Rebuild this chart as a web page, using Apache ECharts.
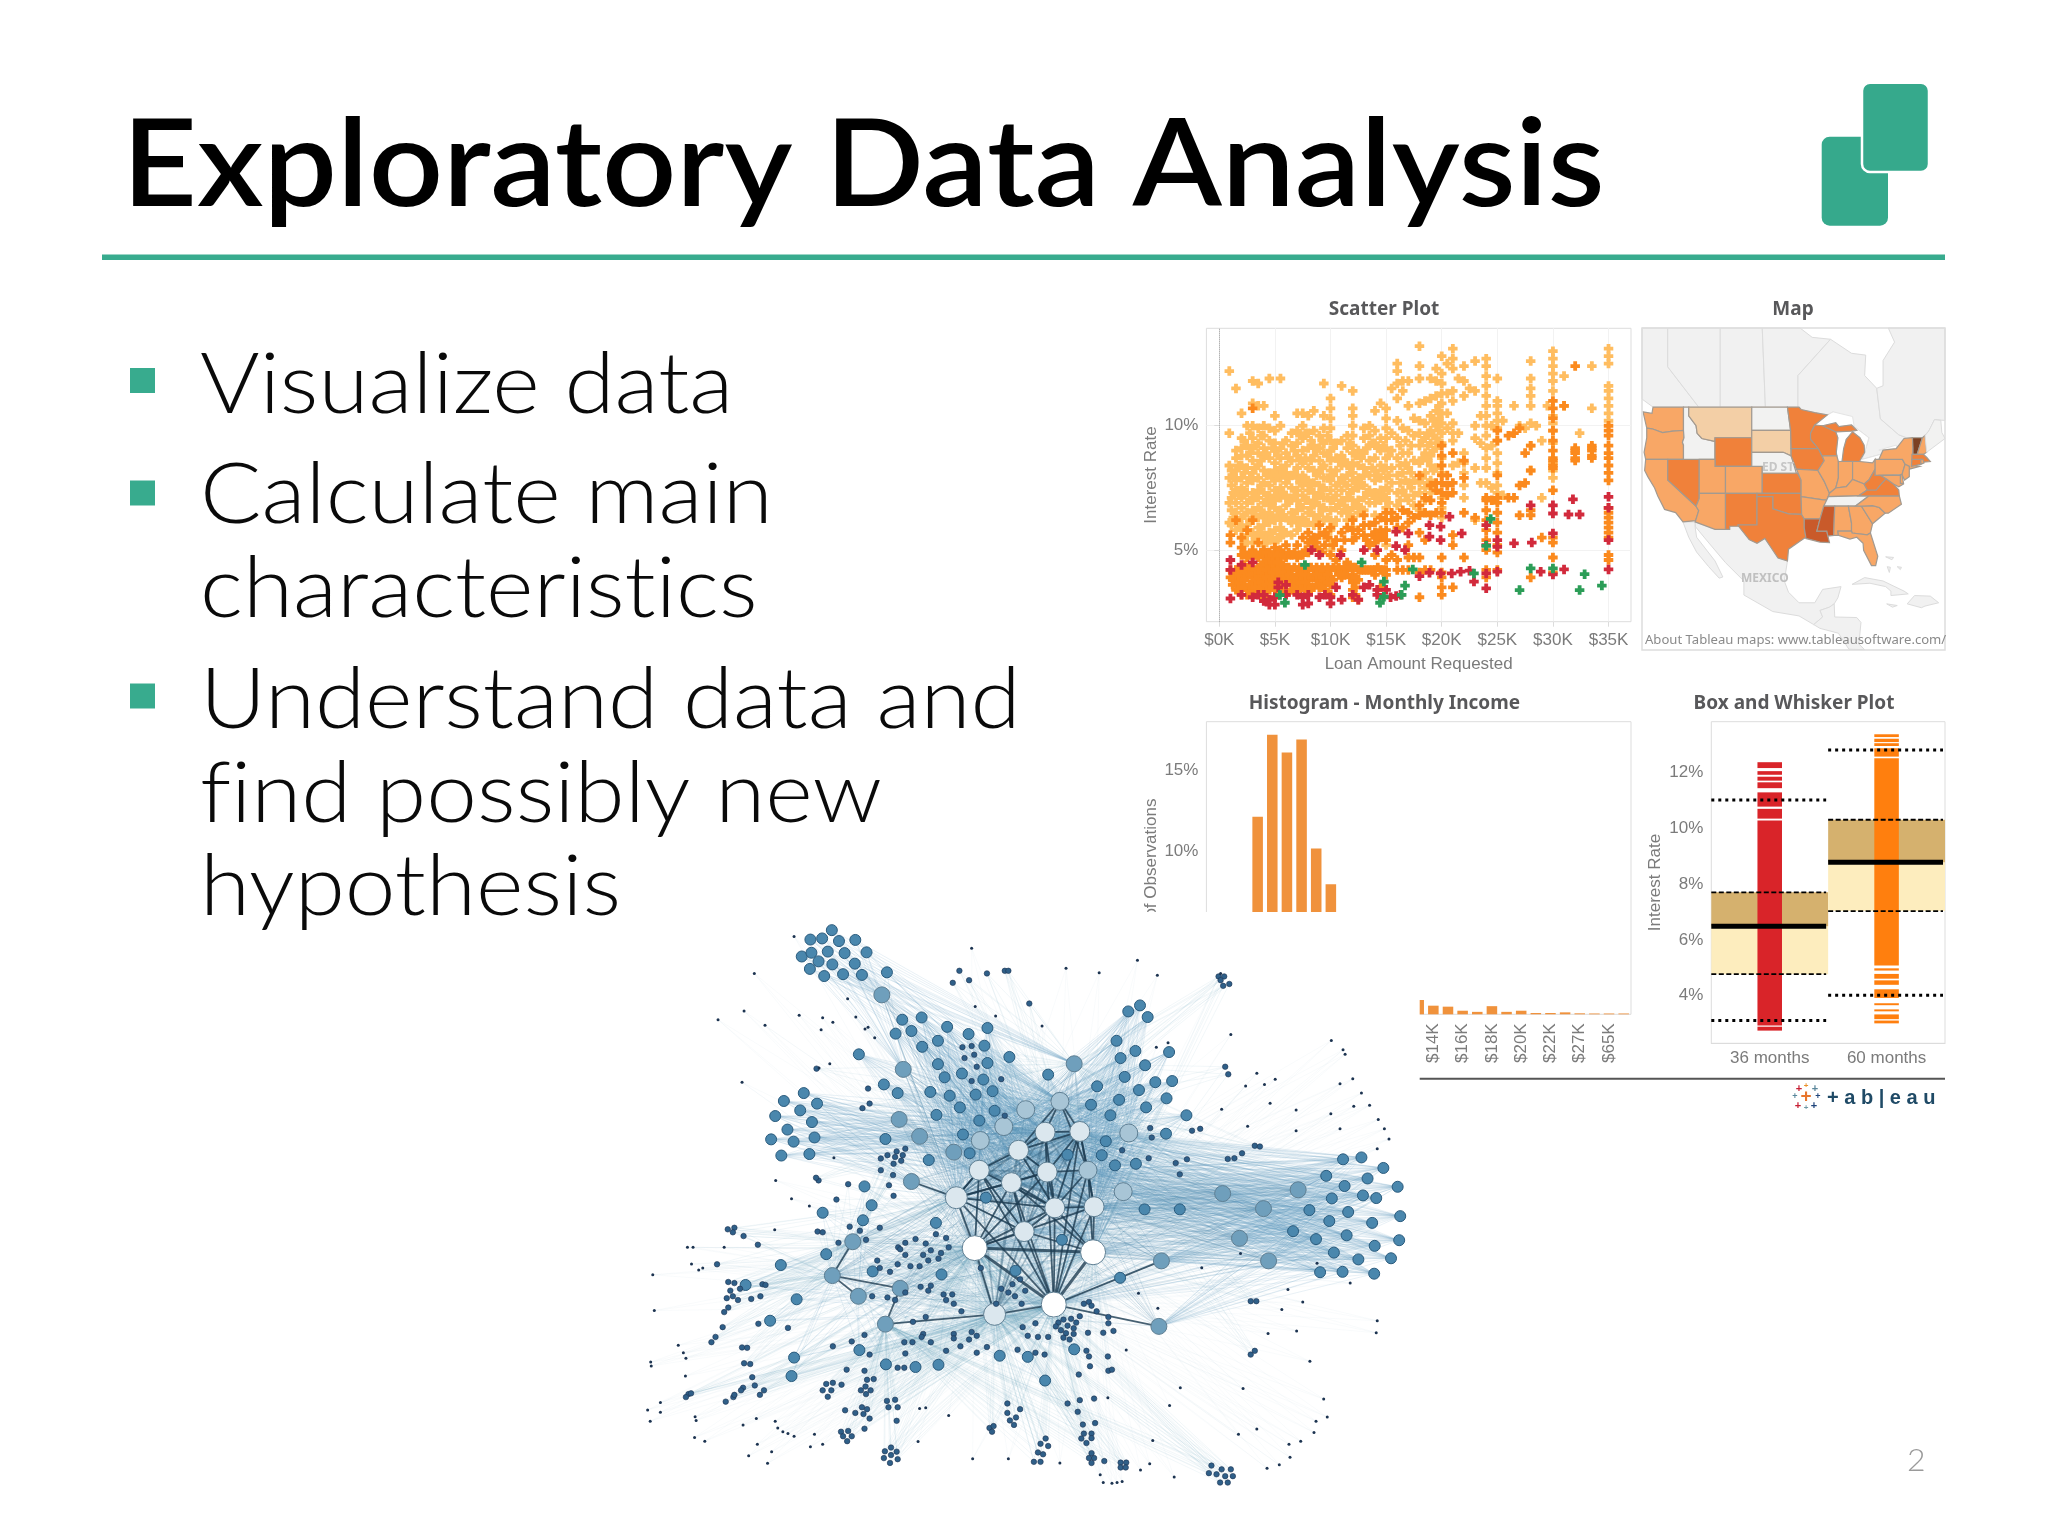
<!DOCTYPE html>
<html>
<head>
<meta charset="utf-8">
<title>Exploratory Data Analysis</title>
<script src="https://cdn.jsdelivr.net/npm/echarts@6/dist/echarts.min.js"></script>
<style>
  html, body { margin: 0; background: #fff; }
  #main { width: 2048px; height: 1524px; }
</style>
</head>
<body>
<div id="main"></div>
<script>
// ---- slide text
const slideTitle = 'Exploratory Data Analysis';
const bulletLines = ['Visualize data', 'Calculate main', 'characteristics', 'Understand data and', 'find possibly new', 'hypothesis'];

// ---- scatter plot: [loan amount in $K, [interest rates]]
const scatterXTicks = [0, 5, 10, 15, 20, 25, 30, 35];
const scatterYTicks = [5, 10];
const scatterLight = [
  [0.9,[12.2,9.7,8.4,7.9,6.9,6.1]],[1.1,[8.2,7.6,7.1,6.6,6.0]],[1.5,[11.5,9.0,8.7,8.2,7.8,7.4,6.9,6.5,6.2,5.8]],
  [2,[10.5,9.5,9.1,8.8,8.4,7.9,7.5,7.1,6.7,6.3,5.9,5.5]],[2.5,[10.0,9.2,8.8,8.3,7.7,7.3,6.9,6.5,6.0,5.6,5.3]],
  [3,[11.8,10.9,10,9.5,9.1,8.6,8.1,7.8,7.3,7,6.6,6.2,5.7,5.3]],[3.5,[11.7,10.8,9.9,9.3,8.9,8.4,7.9,7.4,7.1,6.7,6.3,5.9,5.5]],
  [4,[10.8,10,9.6,9.1,8.8,8.2,7.7,7.3,6.9,6.4,6,5.6,5.2]],[4.5,[11.9,9.9,9.4,8.7,8.1,7.6,7.2,6.8,6.5,6.1,5.7,5.4]],
  [5,[10.4,9.8,9.3,9,8.5,8.2,7.8,7.4,7,6.7,6.2,5.8,5.3]],[5.5,[11.9,10,9.1,8.7,8.3,7.9,7.5,7.1,6.6,6.2,5.9,5.5]],
  [6,[9.4,8.9,8.4,8.1,7.7,7.2,6.8,6.3,5.7]],[6.5,[9.7,9.2,8.6,8,7.5,7,6.5,6.1,5.6]],
  [7,[10.5,9.8,9.3,8.8,8.3,7.9,7.4,7,6.6,6.2,5.8]],[7.5,[10.5,10,9.5,9,8.5,8,7.6,7.2,6.7,6.3]],
  [8,[10.4,9.7,9.1,8.3,7.8,7.4,7,6.5,6.1]],[8.5,[10.6,9.8,9.2,8.8,8.2,7.7,7.3,6.9,6.4,6]],
  [9,[9.6,9.1,8.6,8.1,7.6,7.2,6.8,6.4]],[9.4,[11.7,10.4,9.9,9.3,8.9,8.4,7.9,7.5,7.1,6.7,6.2,5.6]],
  [10,[11.1,10.7,10.3,9.9,9.4,9,8.6,8.2,7.8,7.4,7,6.6,6.2,5.8,5.4,5]],[10.5,[9.3,8.7,8.2,7.6,7.2,6.7,6.2]],
  [11,[11.6,9.4,8.8,8.4,7.9,7.4,7,6.5]],[11.5,[9.6,9.1,8.5,8,7.6,7.1,6.6,6.2]],
  [12,[11.4,10.7,10.4,10,9.6,9.2,8.9,8.5,8.1,7.8,7.4,7,6.7,6.3,5.9]],[12.5,[9,8.4,7.9,7.5,7,6.5]],
  [13,[9.9,9.5,8.9,8.3,8,7.6,7.1,6.6]],[13.5,[10,9.6,9.2,8.6,8,7.4,6.9]],[14,[10.6,9.8,9.3,8.7,8.2,7.8,7.3,6.9,6.4]],
  [14.5,[10.9,9.5,9,8.4,7.9,7.4,7]],[15,[10.7,10.3,9.9,9.5,9.1,8.7,8.3,7.9,7.5,7.1,6.7,6.2,5.2]],[15.5,[11.5,9.7,9,8.3,7.7]],
  [16,[12.5,12.2,11.7,11.1,10.2,9.5,8.7,8,7.3,6.8]],[16.5,[11.8,11.4,9.9,8.9,8.1,7.4]],[17,[11.8,10.8,9.8,8.9,8.3,7.7,7]],
  [17.5,[10.3,9.6,8.6,7.8,7.2,6.8]],[18,[13.2,12.4,11.9,10.9,10.2,9.7,9.2,8.5,7.7,7.3,6.6]],[18.5,[11,10.1,9.5,8.9,8.1,7.5,7]],
  [19,[11.9,11.1,10.4,9.8,9.3,8.8,8.4,7.8,7.3]],[19.5,[12.3,11.8,11.2,10.6,10,9.5,9.1,8.3]],
  [20,[12.8,12.1,11.7,11.3,10.9,10.5,10.1,9.7,9.3,8.7,8.1,7.1,6.7,6.3]],[20.5,[12.5,11.3,10.5,9.9]],
  [21,[13.1,12.7,12.3,11.4,11,10.1,9.7,9.4,8.4]],[21.5,[11.9,9.7,8.5]],[22,[12.4,11.8,11.2,8.9,8.5,8.1,7.6,7.1]],[22.5,[11.5]],
  [23,[12.6,11.4,10,9.5,8.3,6.2]],[23.5,[10.4,9.3,7.7]],[24,[12.7,12.4,12,11.6,11.2,10.8,10.4,10,9.6,9.1,8.7,8.3,7.7]],
  [24.5,[10,9.2,7.5]],[25,[11.9,11,10.8,10.5,10.2,9.9,9.4,8.9,8.5,8.1,7.6,7.3]],[25.5,[10.2,7.2]],[26.5,[10.8]],[27,[10]],
  [27.5,[9.9]],[28,[12.6,11.9,11.5,11.2,10.8,10.1,9.2,8.2]],[28.5,[10]],[29,[9.4,7.1]],[29.5,[10.8]],
  [30,[13,12.7,12.4,12.1,11.8,11.4,10.4,10.1,9.8,9.3,8.5,8.2,7.9]],[31,[12,10.8]],[32.4,[9.7]],[33.5,[12.4,10.7]],
  [35,[13.1,12.8,12.5,11.6,11.4,11.1,10.8,10.5,10.2]]
];
// the solid part of the light cloud between the whole-thousand columns
const scatterLightFill = [
  [1.25,[8,7.3,6.3]],[1.75,[8.4,7.2,6.1]],[2.25,[9.4,8.1,7.3,6.4,5.3]],
  [2.75,[9.7,8.9,7.9,7,6.2]],[3.25,[9.2,8.3,7.2,6.4,5.5]],[3.75,[9.6,8.6,7.6,6.6,5.7]],
  [4.25,[8.9,8,7,6.2,5.4]],[4.75,[9.1,7.9,7,6.3,5.5]],[5.25,[8.8,8,7.2,6.4,5.5]],
  [5.75,[9.3,8.1,7.3,6.4,5.7]],[6.25,[8.7,7.9,7,6.2]],[6.75,[9,8.1,7.2,6.3]],
  [7.25,[9.6,8.6,7.7,6.8,6]],[7.75,[9.7,8.7,7.8,7,6.1]],[8.25,[9.4,8.6,7.6,6.7]],
  [8.75,[9,8,7.1,6.2]],[9.25,[9.4,8.3,7.4,6.6]],[9.75,[9.6,8.8,7.9,7.1,6.3]],
  [10.25,[9.1,8,7,6]],[10.75,[8.6,7.7,6.8]],[11.25,[8.6,7.7,6.8]],[11.75,[9.3,8.3,7.3,6.4]],
  [12.25,[8.8,7.7,6.8]],[12.75,[8.7,7.7,6.7]],[13.25,[9.1,8.1,7.3]],[13.75,[9.3,8.3,7.2]],
  [14.25,[9.1,8,7.1]],[14.75,[9.2,8.2,7.2]],[15.25,[8.8,8,7.4,6.9]],[16.25,[9.2,8.4,7.7,7]],[16.75,[9.4,8.5,7.8,7.2]],
  [17.25,[9.2,8.1,7.5]],[18.25,[9.4,8.7,7.9]],[18.75,[9.7,9.2,8.6,7.7]],[19.25,[10.2,9.6,9,8.2,7.6]],[19.75,[10.8,10.3,9.8,9.3]]
];
const scatterOrange = [
  [1,[5.6,5.3,4.2,3.9]],[1.2,[4.1,3.8,3.6]],[1.5,[6.2,4.2,4,3.7,3.4]],[2,[5.5,5.1,4.8,4.2,3.9,3.6,3.2]],[2.5,[5.8,4.7,4.2,3.9,3.5,3.2]],
  [3,[10.7,6.2,5,4.8,4.3,4,3.7,3.4]],[3.5,[5.3,4.7,4.2,3.9,3.6,3.3]],[4,[5,4.8,4.4,4.1,3.8,3.5,3.1]],[4.5,[4.9,4.7,4.3,4,3.7,3.4]],
  [5,[5.1,4.9,4.6,4.3,4,3.7,3.4]],[5.5,[5,4.7,4.4,4.2,3.9,3.6,3.3]],[6,[5.2,4.7,4.2,3.9,3.6]],[6.5,[4.8,4.2,4,3.7,3.4]],
  [7,[5.2,4.7,4.2,3.9,3.6,3.3]],[7.5,[5.5,4.8,4.2,3.8,3.5]],[8,[5.7,5.3,4.9,4.2,3.9,3.6,3.3]],[8.5,[5.5,5.1,4.2,3.9,3.5]],
  [9,[6,5.6,5,4.2,3.8,3.5]],[9.5,[5.7,5.2,4.1,3.7,3.4]],[10,[5.9,4.8,4.2,3.9,3.6,3.2]],[10.5,[5.4,4.6,4.2]],[11,[5.7,5,4.2,3.9]],
  [11.5,[5.9,4.5,4.2]],[12,[6.2,5.8,5.4,4.3,4,3.7,3.4,3.1]],[12.5,[5.8,4.2,3.8,3]],[13,[6.4,6,5.6,4.2]],[13.5,[6,5.2,4.2]],
  [14,[6.1,5.7,5.3,4.8,4.2,4]],[14.5,[6.3,5.8,5.5,4.2,3.5]],[15,[6.5,6.2,5.8,5.4,4.6,4.2,4]],[15.5,[6.5,6.2,4.8]],[16,[6.3,5.9,4.6,4.2]],
  [16.5,[6.6,5.9,4.2]],[17,[6.5,6.1,5.2,4.7,4.2]],[17.5,[6.3,4.7]],[18,[8,6.8,6.4,5.7,4.7,4.1,3.1]],[18.5,[7.1,6.5,5.4,4.2]],
  [19,[7.6,7,6.4,4.2]],[19.5,[7.7,7.4,6.5]],[20,[9.2,8.8,8.4,8,7.7,7.3,6.9,6.5,4.7,4.1,3.9,3.5,3.2]],[20.5,[8,7.6,7.2]],
  [21,[8.9,7.7,7.3,5.6,5.2,3.5]],[22,[8.6,7.9,6.5,4.7]],[23,[6.3]],[24,[7.1,7,6.6,6.2,5.8,5.4,5,4.2,3.9]],[24.5,[7]],
  [25,[9.8,9.4,8,7.1,6.9,6.5,6.1,5.7,5.2,4.9,4.2]],[26,[9.6,7.1]],[26.5,[9.7,7.1]],[27,[9.9,7.6,6.4]],[27.5,[8.9,7.7]],
  [28,[9.2,8.2,6.6,6.4,3.9]],[29,[5.5]],[30,[11,10.7,10.3,9.8,9.4,9,8.7,8.6,8.4,8.3,7.4,5.5,5.3,4.7,4.1]],[31,[10.8]],
  [32,[12.4,9.1,9,8.9,8.7,8.6]],[33.5,[9.2,9.1,9,8.8,8.7]],
  [35,[10,9.8,9.6,9.2,8.9,8.7,8.4,8.1,7.8,6.7,6.5,6.3,6.1,5.9,5.7,5.5,4.8,4.6]],
  [1.75,[4.3,4,3.7,3.4]],[2.25,[4.4,4.1,3.8,3.5,4.9]],[2.75,[4.3,4,3.6,3.3,4.8]],[3.25,[4.2,3.8,3.5,4.8]],[3.75,[4.4,4.1,3.7,3.4,4.9]],[4.25,[4.6,4.2,3.9,3.6,3.3,4.9]],
  [4.75,[4.8,4.5,4.1,3.8,3.5]],[5.25,[4.8,4.5,4.2,3.8,3.5,3.2]],[5.75,[4.8,4.4,4.1,3.7,3.4]],[6.25,[4.9,4.3,4,3.7,3.3]],[6.75,[4.9,4.3,3.9,3.5]],
  [7.25,[4.8,4.3,4,3.7,3.4]],[7.75,[5,4.3,4,3.7,3.4]],[8.25,[5.4,4.3,3.9,3.5]],[8.75,[5.3,4.3,4,3.6]],[9.25,[4.9,4.3,3.9,3.5]],[9.75,[5.5,4.3,4,3.7,3.3]],
  [10.25,[5.2,4.3,3.8]],[10.75,[4.3,4]],[11.25,[5.4,4.3,4]],[11.75,[4.3,3.9]],[12.25,[5.5,4.3,3.9,3.5,3.2]],[12.75,[4.2]],[13.25,[4.2,5.4]],[13.75,[4.2,5.6]],[14.25,[4.3,5.5]],[14.75,[4.2,5.6]]
];
const scatterRed = [
  [1,[4.6,4.2,3.05]],[2,[4.4,3.2]],[3,[4.5,3.1]],[3.5,[3.2]],[4,[3.2,2.95]],[4.5,[3,2.8]],[5,[3.1,2.8]],[5.3,[3.7,3.5]],
  [6,[3.6,3.2]],[7,[3.2]],[7.5,[3.1,2.8]],[8,[3.2,2.85]],[8.3,[5]],[9,[4.8,3.1]],[9.5,[3.2]],[10,[3.1,2.85]],[10.5,[3.5]],
  [10.9,[4.8]],[11,[3]],[12,[3.2]],[12.5,[3]],[13,[5,3.5]],[13.5,[3.6]],[14.2,[5,3.4,3.2]],[15,[3.4]],[15.4,[3.1]],[15.9,[5.74,5.16,3.15]],
  [16.3,[3.2]],[16.7,[5]],[17,[5.67]],[18,[3.95]],[18.9,[6,5.54,4.09]],[19.9,[5.94,5.4,4.06]],[20.7,[6.34]],[20.9,[4.06]],
  [21.7,[4.13]],[21.8,[5.67]],[22.5,[4.17]],[22.9,[3.73]],[24,[6,5.2,4.06,3.46]],[25,[5.4,5.13,4.13]],[26.5,[5.27]],
  [28,[6.8]],[28.1,[5.3]],[28.9,[4.13]],[30,[6.8,6.47,5.67,4.02]],[31,[4.22]],[31.4,[6.43]],[31.8,[7.04]],
  [32.4,[6.43]],[35,[7.14,6.7,5.4,4.22]]
];
const scatterGreen = [
  [5.45,[3.19]],[5.9,[2.88]],[7.7,[4.4]],[12.8,[4.5]],[14.45,[2.88]],[14.8,[3.73,3.12]],[16.4,[3.2]],[16.7,[3.57]],[17.4,[4.22]],
  [22.9,[4.06]],[24,[5.17]],[24.4,[6.25]],[27,[3.39]],[28,[4.26]],[30,[4.26]],[32.4,[3.39]],[32.85,[4.03]],[34.4,[3.57]]
];

// ---- histogram of monthly income, share of observations in %; bins 0-2 and 9-13 sit behind the network picture
const histValues = [0.4,1.2,4.2,12.16,17.2,16.1,16.9,10.2,8,5.5,4,3,2.2,1.5,0.88,0.53,0.47,0.22,0.15,0.5,0.15,0.22,0.08,0.08,0.12,0.06,0.05,0.05,0.05];
const histLabels = ['','','','','','','','','','','','','','','','$14K','','$16K','','$18K','','$20K','','$22K','','$27K','','$65K',''];
const histYTicks = [10, 15];

// ---- box and whisker plot
const boxCategories = ['36 months', '60 months'];
const boxQ1 = [4.77, 7.03];
const boxMedian = [6.49, 8.78];
const boxQ3 = [7.70, 10.30];
const whiskerLow = [3.11, 4.02];
const whiskerHigh = [11.01, 12.80];
const boxYTicks = [4, 6, 8, 10, 12];
const stripRed = [[10.27,2.93],[2.89,2.75],[10.69,10.34],[11.28,10.77],[11.64,11.43],[11.84,11.70],[12.04,11.91],[12.36,12.15]];
const stripOrange = [[12.5,5.08],[4.98,4.90],[4.78,4.61],[4.55,4.39],[4.23,3.92],[3.73,3.66],[3.51,3.44],[3.33,3.16],[3.11,3.01],[12.86,12.56],[13.04,12.94],[13.2,13.08],[13.36,13.26]];

// ---- map: state outlines in lon/lat and a colour class per state
const stateOutlines = {
  WA: [[-124.7,48.4],[-123,48.2],[-122.8,49],[-117,49],[-117,46],[-119,45.9],[-121,45.7],[-123,46.2],[-124,46.3]],
  OR: [[-124,46.3],[-123,46.2],[-121,45.7],[-119,45.9],[-117,46],[-116.9,45],[-117.2,44.4],[-117,44],[-117,42],[-124.2,42],[-124.5,43],[-124,45]],
  CA: [[-124.2,42],[-120,42],[-120,39],[-114.6,35],[-114.1,34.3],[-114.7,32.7],[-117.1,32.5],[-118.5,34],[-120.6,34.5],[-121.9,36.6],[-122.5,37.8],[-123.8,39.5],[-124.4,40.4]],
  NV: [[-120,42],[-114,42],[-114,36.2],[-114.6,35],[-120,39]],
  ID: [[-117,49],[-116,49],[-116,47.9],[-114.6,46.6],[-114.4,45.6],[-113.5,44.9],[-111,44.5],[-111,42],[-117,42],[-117,44],[-117.2,44.4],[-116.9,45],[-117,46]],
  MT: [[-116,49],[-104,49],[-104,45],[-111,45],[-111,44.5],[-113.5,44.9],[-114.4,45.6],[-114.6,46.6],[-116,47.9]],
  WY: [[-111,45],[-104,45],[-104,41],[-111,41]],
  UT: [[-114,42],[-111,42],[-111,41],[-109,41],[-109,37],[-114,37]],
  CO: [[-109,41],[-102,41],[-102,37],[-109,37]],
  AZ: [[-114,37],[-109,37],[-109,31.3],[-111,31.3],[-114.8,32.5],[-114.7,32.7],[-114.1,34.3],[-114.6,35],[-114,36.2]],
  NM: [[-109,37],[-103,37],[-103,32],[-106.6,32],[-106.5,31.8],[-108.2,31.8],[-108.2,31.3],[-109,31.3]],
  ND: [[-104,49],[-97.2,49],[-96.6,46],[-104,46]],
  SD: [[-104,46],[-96.6,46],[-96.5,42.5],[-98,43],[-104,43]],
  NE: [[-104,43],[-98,43],[-96.5,42.5],[-95.5,40],[-102,40],[-102,41],[-104,41]],
  KS: [[-102,40],[-95.3,40],[-94.6,39],[-94.6,37],[-102,37]],
  OK: [[-103,37],[-94.6,37],[-94.5,33.7],[-97,33.8],[-100,34.6],[-100,36.5],[-103,36.5]],
  TX: [[-106.6,32],[-103,32],[-103,36.5],[-100,36.5],[-100,34.6],[-97,33.8],[-94.5,33.7],[-94,33],[-94,31.5],[-93.7,30],[-94.7,29.4],[-97,28],[-97.2,26],[-99,26.5],[-100.5,28.5],[-101.5,29.8],[-103,29],[-104.5,29.6],[-106.5,31.8]],
  MN: [[-97.2,49],[-95,49],[-94.6,48.7],[-92,48.3],[-89.6,48],[-92,46.7],[-92.8,45.6],[-92.8,44.8],[-91.3,43.5],[-96.5,43.5],[-96.6,46]],
  IA: [[-96.5,43.5],[-91.3,43.5],[-90.2,41.8],[-91.4,40.4],[-95.5,40.6],[-96.5,42.5]],
  MO: [[-95.5,40.6],[-91.4,40.4],[-90.2,38.8],[-89.2,37],[-89.7,36],[-90.4,36],[-94.6,36.5],[-94.6,39]],
  AR: [[-94.6,36.5],[-90.4,36],[-89.7,36],[-91,33],[-94,33],[-94.5,33.7]],
  LA: [[-94,33],[-91,33],[-91.6,31],[-89.7,31],[-89.5,30.2],[-89.2,29.1],[-91,29.2],[-93.7,29.8],[-93.7,30],[-94,31.5]],
  WI: [[-92,46.7],[-90.5,46.6],[-88,45.8],[-87.6,45],[-87.9,43],[-87.8,42.5],[-90.6,42.5],[-91.3,43.5],[-92.8,44.8],[-92.8,45.6]],
  IL: [[-90.6,42.5],[-87.8,42.5],[-87.5,41.7],[-87.5,39.3],[-88,37.8],[-89.2,37],[-90.2,38.8],[-91.4,40.4],[-90.2,41.8]],
  MI: [[-86.8,41.76],[-83.5,41.7],[-82.5,43],[-82.6,44],[-83.4,45],[-84.8,45.8],[-86,44.8],[-86.5,43.5]],
  UP: [[-90.5,46.6],[-88,47],[-87.4,46.5],[-85,46.7],[-84,46],[-85,45.9],[-88,45.8]],
  IN: [[-87.5,41.7],[-84.8,41.7],[-84.8,39.1],[-86,38],[-88,37.8],[-87.5,39.3]],
  OH: [[-84.8,41.7],[-83.5,41.7],[-81,41.5],[-80.5,42],[-80.5,40.6],[-81.7,39],[-82.6,38.4],[-84.8,39.1]],
  KY: [[-89.2,37],[-88,37.8],[-86,38],[-84.8,39.1],[-82.6,38.4],[-82,37.5],[-83.7,36.6],[-89.4,36.5]],
  TN: [[-89.7,36],[-89.4,36.5],[-83.7,36.6],[-81.7,36.6],[-84.3,35],[-90.3,35]],
  MS: [[-91,33],[-90.3,35],[-88.2,35],[-88.4,30.3],[-89.5,30.2],[-89.7,31],[-91.6,31]],
  AL: [[-88.2,35],[-85.6,35],[-85,32.3],[-85,31],[-87.6,31],[-87.5,30.3],[-88.4,30.3]],
  GA: [[-85.6,35],[-83.1,35],[-81,32.2],[-81.4,30.7],[-82,30.4],[-84.9,30.7],[-85,31],[-85,32.3]],
  FL: [[-87.6,31],[-85,31],[-84.9,30.7],[-82,30.4],[-81.4,30.7],[-80,26.8],[-80.4,25.2],[-81.2,25.2],[-82.7,27.8],[-82.8,29],[-84,30],[-85.3,29.7],[-87.5,30.3]],
  SC: [[-83.1,35],[-81,35.1],[-79.7,34.8],[-78.6,33.9],[-81,32.2]],
  NC: [[-84.3,35],[-81.7,36.6],[-75.9,36.6],[-75.5,35.3],[-78,33.9],[-78.6,33.9],[-79.7,34.8],[-81,35.1],[-83.1,35]],
  VA: [[-83.7,36.6],[-75.9,36.6],[-76,37.5],[-77,38.4],[-78.4,39.2],[-79.4,38.4],[-80.3,37.5],[-82,37.5]],
  WV: [[-82,37.5],[-80.3,37.5],[-79.4,38.4],[-78.4,39.2],[-79.5,39.7],[-80.5,39.7],[-80.5,40.6],[-81.7,39],[-82.6,38.4]],
  PA: [[-80.5,42],[-79.8,42],[-75.3,42],[-74.8,41.3],[-75.4,39.8],[-80.5,39.7]],
  NY: [[-79.8,42],[-79,43.3],[-76.5,43.5],[-75,44.9],[-73.4,45],[-73.3,43.6],[-73.5,41.2],[-72,41],[-74,40.6],[-74,41],[-74.8,41.3],[-75.3,42]],
  MD: [[-79.5,39.7],[-75.7,39.7],[-75.1,38.4],[-76,38],[-77,38.4],[-78.4,39.2]],
  NJ: [[-74.8,41.3],[-74,41],[-74,39.5],[-74.9,39],[-75.4,39.8]],
  DE: [[-75.7,39.8],[-75.4,39.8],[-75.1,38.5],[-75.7,38.5]],
  VT: [[-73.4,45],[-71.5,45],[-72.5,42.7],[-73.3,42.7],[-73.3,43.6]],
  NH: [[-71.5,45],[-71,45.3],[-70.7,43],[-71.3,42.7],[-72.5,42.7]],
  MA: [[-73.5,42.7],[-71.3,42.7],[-70.7,42.3],[-70,41.7],[-71.4,41.6],[-73.5,42]],
  CT: [[-73.5,42],[-71.8,42],[-71.8,41.3],[-73.6,41]],
  RI: [[-71.8,42],[-71.4,42],[-71.2,41.5],[-71.8,41.3]],
  ME: [[-71,45.3],[-70.3,45.9],[-69.2,47.4],[-68,47.3],[-67.8,45.7],[-67.2,44.9],[-70.7,43]]
};
const stateLevels = {
  ID:0, ND:0, NE:0, TN:0, ME:0, MT:1, SD:1,
  WA:2, OR:2, CA:2, UT:2, CO:2, AZ:2, AR:2, MO:2, IL:2, IN:2, OH:2, KY:2, PA:2, NY:2, NC:2, SC:2, GA:2, AL:2, FL:2, MD:2, NJ:2, DE:2, NH:2, RI:2,
  WY:3, NV:3, MN:3, WI:3, UP:3, IA:3, KS:3, NM:3, TX:3, OK:3, MI:3, WV:3, VA:3, MA:3, CT:3,
  LA:4, MS:4, VT:5
};
const landOutlines = {
  'British Columbia': [[-124.9,57.96],[-120,57.96],[-120,53.8],[-114.1,49],[-122.8,49],[-124.9,50]],
  'Alberta': [[-120,57.96],[-110,57.96],[-110,49],[-114.1,49],[-120,53.8]],
  'Saskatchewan': [[-110,57.96],[-102,57.96],[-101.4,49],[-110,49]],
  'Manitoba': [[-102,57.96],[-94.8,57.96],[-92.5,57],[-89,56.8],[-95.2,52.8],[-95.2,49],[-101.4,49]],
  'Ontario': [[-95.2,52.8],[-89,56.8],[-85,55.3],[-82.3,55.1],[-82.5,52.8],[-80.2,51.3],[-79.5,47.5],[-76,45.4],[-74.5,45],[-76.5,43.6],[-79,43.3],[-79,42.8],[-83,42],[-82.5,43],[-81.7,45],[-84.5,46.5],[-88.5,48.4],[-89.6,48],[-92,48.3],[-94.6,48.7],[-95.2,49]],
  'Quebec': [[-79.5,47.5],[-80.2,51.3],[-79,51.6],[-79,54.5],[-76.8,56.5],[-78,57.96],[-67.2,57.96],[-67.2,47.3],[-69.2,47.4],[-70.3,45.9],[-71.5,45],[-74.5,45],[-76,45.4]],
  'Mexico': [[-114.8,32.5],[-111,31.3],[-108.2,31.3],[-108.2,31.8],[-106.5,31.8],[-104.5,29.6],[-103,29],[-101.5,29.8],[-100.5,28.5],[-99,26.5],[-97.2,26],[-97.8,22.5],[-97,20.5],[-95,18.6],[-92,18.6],[-90.5,21],[-87,21.5],[-87.6,19.5],[-88.3,18.4],[-89.2,17.8],[-91,17.2],[-90.5,16],[-92.2,14.6],[-95,16.2],[-100,17],[-105.5,20],[-105.5,22.5],[-109,25.7],[-112.6,29.5],[-114.7,31.7]],
  'Baja California': [[-117.1,32.5],[-114.8,32.5],[-114.8,31.8],[-114.5,30],[-111,26],[-109.5,23.2],[-110.2,23],[-112.2,25],[-114.5,27.5],[-116,30]],
  'Central America': [[-92.2,14.6],[-90.5,16],[-91,17.2],[-89.2,17.8],[-88.3,18.4],[-88.2,16],[-84,15.9],[-83.2,15],[-83.6,11],[-82.5,9.9],[-85.5,10],[-87.5,13],[-91,13.9]],
  'Cuba': [[-84.9,21.9],[-82.5,23.1],[-79,22.5],[-75,20.7],[-74.2,20.2],[-77.5,19.9],[-77.5,20.7],[-78.5,21.5],[-81.5,22.1]],
  'Hispaniola': [[-74.4,18.4],[-73,19.9],[-70,19.8],[-68.4,18.6],[-71,18],[-71.7,17.7]],
  'Jamaica': [[-78.3,18.4],[-76.3,18.1],[-77.2,17.8]],
  'Abaco': [[-78.5,26.7],[-77,26.6],[-77.3,26.2]],
  'Andros': [[-78.2,25],[-77.6,24.9],[-77.8,24]],
  'Eleuthera': [[-76.3,25],[-75.7,24.5],[-75.5,24.9]]
};
const lakeOutlines = {
  'Lake Superior': [[-92,46.7],[-89.6,48],[-88.5,48.4],[-84.8,47.8],[-84.5,46.5],[-85,46.7],[-87.4,46.5],[-88,47],[-90.5,46.6]],
  'Lake Michigan': [[-87.9,43],[-87.6,45],[-88,45.8],[-85,45.9],[-84.8,45.8],[-86,44.8],[-86.5,43.5],[-86.8,41.76],[-87.5,41.7],[-87.8,42.5]],
  'Lake Huron': [[-84,46],[-84.5,46.5],[-81.7,45],[-82.5,43],[-82.6,44],[-83.4,45],[-84.8,45.8]],
  'Lake Erie': [[-83.5,41.7],[-83,42],[-79,42.8],[-79,42.6],[-79.8,42],[-80.5,42],[-81,41.5]],
  'Lake Ontario': [[-79.8,43.3],[-76.5,44],[-76.2,43.5],[-79,43.3]]
};

const coreNodes = [
  [656,872],[888,883],[811,1022],[620,738],[695,1048],[728,698],[798,670],[753,828],[742,612],[665,665],[813,765],[890,762],[794,564],[862,562],
  [823,482],[878,665],[947,722],[958,566],[756,504],[713,549],[667,586],[548,575],[508,530],[532,695],[615,617],[417,855],[377,945],[428,1000],
  [510,979],[481,1074],[851,382],[474,199],[516,397],[1142,727],[1222,767],[1175,846],[1232,906],[1022,906],[1017,1080],[1290,717]
];
const coreLinks = [
  [0,1],[0,2],[1,2],[3,0],[3,2],[3,5],[3,9],[3,6],[4,0],[4,2],[5,0],[5,6],[5,1],[5,7],[6,10],[6,0],[6,2],[6,12],[6,8],[7,0],[7,1],[7,2],[8,9],[8,12],[8,13],
  [9,0],[9,3],[9,10],[10,1],[10,2],[10,0],[11,1],[11,2],[11,10],[12,14],[13,14],[12,13],[13,15],[15,11],[15,10],[15,6],[2,37],[25,26],[23,3],[26,27],[26,28],[29,28],[29,4],[2,38],[13,6],[14,15],[14,8],[13,11],
  [3,7],[3,10],[5,10],[5,2],[9,7],[9,2],[12,10],[13,10],[13,2],[8,10],[15,2],[15,1],[0,11],[7,10]
];
const rightBlue = [
  [1378,636],[1414,631],[1457,659],[1345,680],[1426,687],[1381,707],[1485,709],[1417,732],[1356,740],[1443,739],[1312,771],[1388,776],[1490,787],
  [1351,800],[1435,805],[1280,827],[1325,848],[1385,838],[1488,851],[1440,866],[1360,884],[1472,899],[1408,902],[1333,936],[1377,935],[1439,940]
];
const topLeftBlue = [
  [376,27],[334,52],[357,49],[390,56],[422,53],[317,97],[336,87],[368,84],[401,88],[444,86],[350,110],[377,118],[421,116],[333,130],[361,149],[398,144],[435,146],[484,139]
];
const westBlue = [
  [321,460],[282,481],[347,488],[265,521],[314,506],[337,537],[289,557],[257,583],[301,589],[342,578],[277,626],[332,622],[481,582]
];
const upperBlue = [
  [429,357],[514,265],[552,259],[602,284],[501,302],[532,295],[553,337],[584,321],[644,303],[681,287],[675,334],[584,383],[724,364],[681,380],[597,418],[631,408],
  [673,424],[800,411],[934,321],[957,243],[980,227],[995,258],[942,367],[971,348],[1037,351],[990,386],[950,417],[896,442],[1010,431],[1043,428],[978,452],[884,491],
  [939,478],[1032,474],[992,498],[1071,519],[922,519],[478,437],[505,460],[569,457],[607,467],[658,464],[691,455],[627,498],[581,518],[695,507],[665,533],[633,570],
  [913,588],[905,625],[931,652],[972,648],[1031,568],[566,638],[646,620],[838,624],[678,738],[989,769],[1058,769]
];
const lowerBlue = [
  [440,708],[454,758],[358,778],[437,798],[580,805],[736,932],[827,850],[941,951],[591,942],[456,934],[276,917],[207,970],[307,1008],[255,1065],[302,1163],[297,1212],
  [430,1143],[482,1181],[540,1188],[585,1182],[705,1158],[851,1141],[760,1161],[794,1224],[365,888]
];
const smallWest = [
  [472,634],[485,625],[500,630],[515,625],[520,608],[503,615],[497,648],[512,640],[496,678],[472,665],[488,705],[497,733],[408,702],[385,743],[470,818],[506,870],[443,850],
  [431,826],[411,815],[348,828],[358,830],[389,858],[173,962],[185,965],[177,985],[196,980],[182,1000],[170,1005],[192,1010],[218,1007],[240,968],[246,970],[236,1000],
  [173,1030],[165,1042],[162,1082],[148,1108],[140,1122],[200,1136],[210,1137],[204,1178],[216,1180],[232,1073],[290,1084],[151,915],[203,840],[231,863],[172,822],[185,818],[182,830]
];
const smallCenter = [
  [540,848],[560,860],[580,835],[600,845],[570,878],[590,885],[605,870],[555,890],[565,905],[585,900],[520,858],[510,875],[520,890],[505,915],[465,905],[470,925],[490,935],
  [530,920],[548,920],[550,975],[520,990],[485,1003],[500,1010],[455,1000],[595,995],[612,995],[600,1010],[615,1020],[630,1040],[570,972],[565,985],
  [820,1070],[830,1062],[845,1060],[855,1070],[838,1078],[850,1085],[825,1090],[835,1098],[850,1100],[830,1110],[842,1115],[862,1053],[880,1015],[870,1020],[885,1025],[895,1040],
  [878,1097],[908,1097],[928,1092],[918,1055],[918,1072],[750,1082],[775,1072],[760,1105],[800,1108],[780,1108],[815,1080],[740,1142],[775,1150],[793,1155],[875,1145],[880,1160],
  [882,1186],[917,1160],[918,1198],[925,1195],[860,1208],[708,980],[730,968],[745,955],[722,990],[735,1000],[755,985],[748,1020],[698,1020],[668,925],[650,1095],[660,1105],[645,1115],
  [628,1133],[615,1100],[615,1112],[680,1135],[660,1150],[600,1145],[570,1122],[555,1100],[552,1108],[534,1122],[518,1122],[520,1152],[535,1068],[560,1055],[440,1103],[415,1120],[450,1155],[378,1133]
];
const smallSouth = [
  [378,1230],[365,1233],[395,1235],[358,1250],[375,1250],[368,1267],[405,1195],[440,1198],[445,1222],[458,1220],[442,1240],[433,1250],[452,1250],[443,1260],[505,1190],[518,1190],
  [484,1278],[500,1275],[487,1295],[505,1295],[402,1303],[435,1295],[445,1300],[422,1310],[438,1313],[450,1325],[503,1331],[440,1352],[394,1360],[408,1358],[398,1372],[415,1372],[406,1385],
  [492,1402],[480,1412],[503,1413],[492,1422],[478,1430],[505,1433],[490,1443],[220,1215],[225,1237],[202,1243],[198,1250],[243,1250],[235,1262],[95,1260],[90,1268],[100,1258],[183,1268],[185,1262],[168,1280],
  [720,1285],[745,1300],[720,1310],[737,1322],[725,1330],[733,1342],[685,1350],[693,1345],[690,1360],[795,1378],[785,1392],[800,1398],[780,1415],[790,1420],[772,1440],[785,1440],
  [838,1285],[862,1276],[858,1307],[890,1272],[868,1341],[892,1337],[870,1365],[885,1365],[865,1378],[885,1377],[875,1390],[885,1417],[880,1430],[890,1430],[885,1443],[910,1438],
  [942,1442],[953,1442],[942,1455],[952,1455],[1120,1450],[1140,1460],[1158,1460],[1115,1470],[1130,1473],[1147,1478],[1162,1478],[1137,1495],[1152,1495]
];
const smallNorth = [
  [650,335],[632,338],[655,358],[636,367],[660,390],[650,428],[708,423],[715,520],[1000,553],[1003,578],[945,612],[997,633],[1050,646],[1058,676],[1072,636],[1082,560],[1098,555],[1152,635],[1165,633],[1180,620],
  [1205,600],[1215,602],[680,142],[715,135],[722,135],[613,167],[645,160],[626,135],[1134,150],[1145,150],[1138,160],[1155,170],[1143,175],[763,222],[436,500],[450,488],[447,448],[350,692],[345,685],[346,395],
  [1147,390],[1153,410],[1205,1145],[1197,1155],[1197,1013],[1208,1013]
];
const tinyNodes = [
  [302,44],[650,75],[224,142],[835,128],[900,140],[975,107],[1014,147],[1138,142],[204,242],[153,265],[245,280],[312,253],[358,260],[378,272],[355,292],[423,258],[441,290],[447,285],[460,313],[407,209],[657,230],
  [697,255],[788,282],[1158,304],[1035,326],[1012,338],[372,382],[351,393],[200,431],[1355,320],[1378,345],[1382,357],[1209,407],[1245,423],[1224,437],[1187,441],[1397,422],[1372,435],[1414,460],[1235,487],
  [1286,505],[1140,503],[1354,515],[1399,495],[1430,492],[1447,530],[1459,555],[1468,582],[1372,555],[1286,560],[1191,548],[1445,608],[380,632],[266,692],[297,741],[332,760],[264,823],[93,870],[104,870],[165,870],
  [101,914],[115,930],[123,925],[25,943],[28,1038],[75,1130],[85,1150],[90,1165],[21,1175],[22,1185],[89,1212],[40,1282],[15,1302],[40,1308],[20,1332],[108,1320],[110,1330],[228,1325],[202,1342],[265,1332],
  [270,1350],[280,1360],[290,1365],[302,1372],[107,1375],[127,1385],[230,1393],[258,1413],[213,1424],[250,1444],[342,1367],[334,1400],[358,1393],[652,1432],[722,1432],[823,1443],[545,1386],[605,1317],[548,1298],
  [560,1296],[1059,1243],[1182,1245],[1038,1290],[917,1270],[1005,1383],[1173,1367],[1209,1353],[1340,1273],[1347,1321],[1325,1332],[1321,1362],[1295,1385],[1272,1393],[1274,1428],[1253,1448],[1229,1457],[1047,1480],
  [999,1445],[981,1462],[902,1474],[908,1495],[925,1497],[935,1495],[945,1492],[1313,1173],[1231,1099],[1287,1092],[1445,1065],[1443,1097],[1258,1035],[1299,1015],[1270,982],[1392,965],[1327,912],[1177,886],[1101,924],
  [1015,1032],[977,992],[953,1143]
];
// which nodes of coreNodes each group is tied to
const groupTargets = {
  rightBlue: [0,1,2,5,6,7,8,10,11,12,13,15,16,17,19,33,34,35,36,37,38],
  topLeftBlue: [30,31,32,14,12],
  westBlue: [21,22,24,9,3,23,20,5,8,12,18,19],
  upperBlue: [0,1,2,3,5,6,7,8,9,10,11,12,13,14,15,17,18,19,20,24],
  lowerBlue: [0,2,4,25,26,27,3],
  smallWest: [0,25,26,3],
  smallCenter: [0,2,4,1],
  smallSouth: [2,4,0,29],
  smallNorth: [14,12,1,30],
  tinyNodes: [0,1,2]
};

const FONT_SANS = '"Liberation Sans", Arial, sans-serif';
const TICK_GREY = '#7b7b7b';
const GREEN = '#38ab8e';

const toPoints = cols => cols.flatMap(([k, rates]) => rates.map(r => [k, r]));

// Lato's fi and ti ligatures are not in the slide, plain shaping keeps the letters apart
const baseGetContext = HTMLCanvasElement.prototype.getContext;
HTMLCanvasElement.prototype.getContext = function (...args) {
  const ctx = baseGetContext.apply(this, args);
  if (ctx && 'textRendering' in ctx) ctx.textRendering = 'optimizeSpeed';
  return ctx;
};

// mercator so the map keeps the Tableau look
const mapProjection = {
  project: p => [p[0], -(180 / Math.PI) * Math.log(Math.tan(Math.PI / 4 + p[1] * Math.PI / 360))],
  unproject: p => [p[0], (360 / Math.PI) * Math.atan(Math.exp(-p[1] * Math.PI / 180)) - 90]
};
const toGeoJson = outlines => ({
  type: 'FeatureCollection',
  features: Object.keys(outlines).map(name => ({
    type: 'Feature',
    properties: { name },
    geometry: { type: 'Polygon', coordinates: [outlines[name].concat([outlines[name][0]])] }
  }))
});
echarts.registerMap('tableauLand', toGeoJson({ ...landOutlines, ...lakeOutlines }));
echarts.registerMap('tableauStates', toGeoJson(stateOutlines));

const mapBox = {
  left: 1642, top: 328, width: 303, height: 322,
  boundingCoords: [[-124.9, 57.96], [-67.2, 9.85]],
  projection: mapProjection,
  roam: false, silent: true,
  label: { show: false },
  emphasis: { disabled: true },
  select: { disabled: true },
  showLegendSymbol: false
};

// network nodes and links
const networkGroups = { rightBlue, topLeftBlue, westBlue, upperBlue, lowerBlue, smallWest, smallCenter, smallSouth, smallNorth, tinyNodes };
const networkNodes = [];
const networkLinks = [];
const coreColor = i => (i < 3 ? '#ffffff' : i < 14 ? '#dbe7ee' : i < 21 ? '#a8c5d6' : '#6f9fbc');
const coreSize = i => (i < 3 ? 25 : i < 5 ? 22 : i < 14 ? 20 : i < 21 ? 18 : 16);
coreNodes.forEach((p, i) => networkNodes.push({
  value: p, symbolSize: coreSize(i),
  itemStyle: { color: coreColor(i), borderColor: '#5f7f93', borderWidth: 1 }
}));
Object.keys(networkGroups).forEach(name => {
  const tiny = name === 'tinyNodes';
  const small = name.startsWith('small');
  networkGroups[name].forEach(p => {
    const idx = networkNodes.length;
    networkNodes.push({
      value: p, symbolSize: tiny ? 3 : small ? 5.5 : 11,
      itemStyle: tiny ? { color: '#1c3350' } : small
        ? { color: '#2f5f88', borderColor: '#1c3350', borderWidth: 0.6 }
        : { color: '#4a87ad', borderColor: '#2a5b7d', borderWidth: 1 }
    });
    groupTargets[name].forEach(t => networkLinks.push({
      source: idx, target: t,
      lineStyle: { color: '#5b96b8', width: tiny ? 0.6 : 0.9, opacity: tiny ? 0.07 : small ? 0.09 : 0.15 }
    }));
  });
});
for (let i = 14; i < coreNodes.length; i++) {
  for (let j = 0; j < 14; j++) {
    networkLinks.push({ source: i, target: j, lineStyle: { color: '#4f86a6', width: 1, opacity: 0.18 } });
  }
}
for (let i = 3; i < 14; i++) {
  for (let j = i + 1; j < 14; j++) {
    networkLinks.push({ source: i, target: j, lineStyle: { color: '#2c5a75', width: 1.6, opacity: 0.35 } });
  }
}
coreLinks.forEach(([a, b]) => networkLinks.push({
  source: a, target: b,
  lineStyle: { color: '#1f3d52', width: a < 3 && b < 3 ? 3 : 1.8, opacity: 0.8 }
}));

const axisText = { color: TICK_GREY, fontFamily: FONT_SANS, fontSize: 17 };
const axisGrey = { color: '#dcdcdc', width: 1 };
const plusSymbol = 'path://M3,0h4v3h3v4h-3v3h-4v-3h-3v-4h3z';
const scatterSeries = (name, data, color) => ({
  name, type: 'scatter', xAxisIndex: 0, yAxisIndex: 0, data: toPoints(data),
  symbol: plusSymbol, symbolSize: 9.5, itemStyle: { color, opacity: 1 }, silent: true, animation: false
});

// box and whisker marks drawn through the axes of grid 2
const bandWidth = api => api.size([1, 0])[0];
const boxBands = (params, api) => {
  const i = api.value(0);
  const w = bandWidth(api);
  const x = api.coord([i, 0])[0] - w / 2;
  const yQ1 = api.coord([i, boxQ1[i]])[1], yMed = api.coord([i, boxMedian[i]])[1], yQ3 = api.coord([i, boxQ3[i]])[1];
  return { type: 'group', children: [
    { type: 'rect', shape: { x, y: yMed, width: w, height: yQ1 - yMed }, style: { fill: '#fdedbe' } },
    { type: 'rect', shape: { x, y: yQ3, width: w, height: yMed - yQ3 }, style: { fill: '#d5b16e' } }
  ] };
};
const stripRender = (params, api) => {
  const i = api.value(0);
  const w = bandWidth(api) * 0.21;
  const x = api.coord([i, 0])[0] - w / 2;
  const top = api.coord([i, api.value(1)])[1], bottom = api.coord([i, api.value(2)])[1];
  return { type: 'rect', shape: { x, y: top, width: w, height: bottom - top }, style: { fill: i === 0 ? '#d92429' : '#ff7f0e' } };
};
const boxLines = (params, api) => {
  const i = api.value(0);
  const w = bandWidth(api);
  const x = api.coord([i, 0])[0];
  const hline = (v, lineWidth, lineDash) => {
    const y = api.coord([i, v])[1];
    return { type: 'line', shape: { x1: x - w / 2, y1: y, x2: x + w / 2 - 2, y2: y }, style: { stroke: '#000', lineWidth, lineDash } };
  };
  return { type: 'group', children: [
    hline(whiskerHigh[i], 3, [3, 4]), hline(whiskerLow[i], 3, [3, 4]),
    hline(boxQ1[i], 1.8, [5, 2.5]), hline(boxQ3[i], 1.8, [5, 2.5]),
    hline(boxMedian[i], 5, null)
  ] };
};

const option = {
  animation: false,
  backgroundColor: '#ffffff',
  grid: [
    { left: 1206.4, top: 328.3, width: 424.6, height: 293.4, show: true, borderColor: '#dddddd', backgroundColor: '#fff', containLabel: false },
    { left: 1206.4, top: 721.7, width: 424.6, height: 292.6, show: true, borderColor: '#dddddd', backgroundColor: '#fff' },
    { left: 1711.3, top: 721.7, width: 233.7, height: 321.6, show: true, borderColor: '#dddddd', backgroundColor: '#fff' },
    { left: 640, top: 920, width: 800, height: 590, show: false }
  ],
  xAxis: [
    { gridIndex: 0, type: 'value', min: -1.16, max: 37.02,
      name: 'Loan Amount Requested', nameLocation: 'middle', nameGap: 34, nameTextStyle: axisText,
      axisLine: { show: false },
      axisTick: { customValues: scatterXTicks, length: 5, lineStyle: axisGrey },
      axisLabel: { customValues: scatterXTicks, formatter: v => '$' + v + 'K', margin: 10, ...axisText },
      splitLine: { show: true, customValues: scatterXTicks, lineStyle: { color: '#f2f2f2' } } },
    { gridIndex: 1, type: 'category', data: histLabels,
      axisLine: { show: false },
      axisTick: { show: false },
      axisLabel: { interval: 0, rotate: 90, margin: 9, ...axisText } },
    { gridIndex: 2, type: 'category', data: boxCategories,
      axisLine: { lineStyle: axisGrey },
      axisTick: { length: 5, lineStyle: axisGrey },
      axisLabel: { margin: 7, ...axisText } },
    { gridIndex: 3, type: 'value', min: 0, max: 1568, show: false }
  ],
  yAxis: [
    { gridIndex: 0, type: 'value', min: 2.117, max: 13.92,
      name: 'Interest Rate', nameLocation: 'middle', nameGap: 47, nameTextStyle: axisText,
      axisLine: { show: false },
      axisTick: { customValues: scatterYTicks, length: 5, lineStyle: axisGrey },
      axisLabel: { customValues: scatterYTicks, formatter: v => v + '%', margin: 8, ...axisText },
      splitLine: { show: true, customValues: scatterYTicks, lineStyle: { color: '#f2f2f2' } } },
    { gridIndex: 1, type: 'value', min: 0, max: 18,
      name: '% of Observations', nameLocation: 'middle', nameGap: 47, nameTextStyle: axisText,
      axisLine: { show: false },
      axisTick: { customValues: histYTicks, length: 5, lineStyle: axisGrey },
      axisLabel: { customValues: histYTicks, formatter: v => v + '%', margin: 8, ...axisText },
      splitLine: { show: false } },
    { gridIndex: 2, type: 'value', min: 2.296, max: 13.81,
      name: 'Interest Rate', nameLocation: 'middle', nameGap: 47, nameTextStyle: axisText,
      axisLine: { show: false },
      axisTick: { customValues: boxYTicks, length: 5, lineStyle: axisGrey },
      axisLabel: { customValues: boxYTicks, formatter: v => v + '%', margin: 8, ...axisText },
      splitLine: { show: false } },
    { gridIndex: 3, type: 'value', min: 0, max: 1568, inverse: true, show: false }
  ],
  visualMap: {
    show: false, type: 'continuous', seriesIndex: 7, min: 0, max: 5,
    inRange: { color: ['#f2f2f1', '#f3cfa6', '#f8a766', '#f0813a', '#c95a2a', '#7b4022'] }
  },
  series: [
    { ...scatterSeries('light', scatterLight, '#ffbd60'),
      markLine: { silent: true, symbol: 'none', label: { show: false }, animation: false,
        lineStyle: { color: '#999', type: 'dotted', width: 1 }, data: [{ xAxis: 0 }] } },
    scatterSeries('light fill', scatterLightFill, '#ffbd60'),
    scatterSeries('orange', scatterOrange, '#fb8a1e'),
    scatterSeries('red', scatterRed, '#d22a3c'),
    scatterSeries('green', scatterGreen, '#2b9d57'),
    { type: 'bar', xAxisIndex: 1, yAxisIndex: 1, data: histValues, barWidth: '72%', silent: true,
      itemStyle: { color: '#f0923c' } },
    { ...mapBox, type: 'map', map: 'tableauLand',
      itemStyle: { areaColor: '#f1f1f1', borderColor: '#dcdcdc', borderWidth: 1 },
      data: Object.keys(lakeOutlines).map(name => ({ name, itemStyle: { areaColor: '#fff', borderColor: '#e4e4e4' } })) },
    { ...mapBox, type: 'map', map: 'tableauStates',
      itemStyle: { borderColor: '#a39a90', borderWidth: 1.2 },
      data: Object.keys(stateLevels).map(name => ({
        name, value: stateLevels[name],
        itemStyle: name === 'ME' ? { borderColor: '#dcdcdc', borderWidth: 1 } : undefined
      })) },
    { type: 'custom', xAxisIndex: 2, yAxisIndex: 2, z: 2, silent: true, renderItem: boxBands,
      data: boxCategories.map((c, i) => [i]) },
    { type: 'custom', xAxisIndex: 2, yAxisIndex: 2, z: 3, silent: true, renderItem: stripRender,
      data: stripRed.map(s => [0, s[0], s[1]]).concat(stripOrange.map(s => [1, s[0], s[1]])) },
    { type: 'custom', xAxisIndex: 2, yAxisIndex: 2, z: 4, silent: true, renderItem: boxLines,
      data: boxCategories.map((c, i) => [i]) },
    { type: 'graph', coordinateSystem: 'cartesian2d', xAxisIndex: 3, yAxisIndex: 3, layout: 'none', z: 100, silent: true,
      data: networkNodes, links: networkLinks, edgeSymbol: ['none', 'none'], label: { show: false }, emphasis: { disabled: true } }
  ],
  graphic: [
    // cover of the network picture over the histogram
    { type: 'rect', z: 50, shape: { x: 640, y: 912, width: 779.7, height: 612 }, style: { fill: '#fff' } },
    // map frame and map text
    { type: 'rect', z: 60, shape: { x: 1642, y: 328, width: 303, height: 322 }, style: { fill: 'none', stroke: '#dddddd', lineWidth: 1.5 } },
    { type: 'text', z: 60, x: 1645, y: 640.5, style: { text: 'About Tableau maps: www.tableausoftware.com/', fill: '#8a8a8a', font: '13.1px "Noto Sans", sans-serif', verticalAlign: 'middle' } },
    { type: 'text', z: 60, x: 1741, y: 579, style: { text: 'MEXICO', fill: '#c0c0c0', font: 'bold 12px "Noto Sans", sans-serif', verticalAlign: 'middle' } },
    { type: 'text', z: 60, x: 1762, y: 468, style: { text: 'ED ST', fill: '#c6c6c6', font: 'bold 12px "Noto Sans", sans-serif', verticalAlign: 'middle' } },
    // panel titles
    ...[['Scatter Plot', 1384, 310], ['Map', 1793, 310], ['Histogram - Monthly Income', 1384.4, 703.7], ['Box and Whisker Plot', 1794, 703.7]].map(([text, x, y]) => ({
      type: 'text', z: 60, x, y,
      style: { text, fill: '#58585a', font: 'bold 19px "Noto Sans", sans-serif', textAlign: 'center', verticalAlign: 'middle' }
    })),
    // tableau footer
    { type: 'rect', z: 60, shape: { x: 1419.7, y: 1077.7, width: 525.3, height: 2 }, style: { fill: '#555555' } },
    ...[['#e8762d', 1806, 1097, 19], ['#c72035', 1799, 1089, 11], ['#5b879b', 1815, 1089, 11], ['#59879b', 1795, 1097, 9], ['#1f447b', 1818, 1097, 9],
        ['#c72035', 1798, 1106, 11], ['#1f447b', 1814, 1106, 11], ['#eb912b', 1806, 1086, 8], ['#7099a6', 1806, 1108, 8]].map(([fill, x, y, size]) => ({
      type: 'text', z: 60, x, y, style: { text: '+', fill, font: 'bold ' + size + 'px "Liberation Sans"', textAlign: 'center', verticalAlign: 'middle' }
    })),
    { type: 'text', z: 60, x: 1827, y: 1098, style: { text: '+ a b | e a u', fill: '#1f4a66', font: 'bold 20px "Liberation Sans"', verticalAlign: 'middle' } },
    // slide furniture
    { type: 'text', z: 200, x: 122, y: 167, scaleX: 1.068, style: { text: slideTitle, fill: '#000', font: '600 122px Lato, sans-serif', verticalAlign: 'middle' } },
    { type: 'rect', z: 200, shape: { x: 102, y: 254.5, width: 1843, height: 5.5 }, style: { fill: GREEN } },
    { type: 'rect', z: 200, shape: { x: 1821.7, y: 136.7, width: 66.3, height: 89, r: 8 }, style: { fill: '#36a98c' } },
    { type: 'rect', z: 201, shape: { x: 1862, y: 82.7, width: 67, height: 89.3, r: 8 }, style: { fill: '#36a98c', stroke: '#fff', lineWidth: 2.5 } },
    ...[380.5, 493, 696].map(y => ({ type: 'rect', z: 200, shape: { x: 130, y: y - 12.5, width: 25, height: 25 }, style: { fill: GREEN } })),
    ...bulletLines.map((text, i) => ({
      type: 'text', z: 200, x: 200, y: [386, 496, 590, 701, 795, 888][i], scaleX: 1.083,
      style: { text, fill: '#0a0a0a', font: '300 84px Lato, sans-serif', verticalAlign: 'middle' }
    })),
    { type: 'text', z: 200, x: 1907, y: 1461, style: { text: '2', fill: '#9a9a9a', font: '300 32px Lato, sans-serif', verticalAlign: 'middle' } }
  ]
};

const chart = echarts.init(document.getElementById('main'), null, { renderer: 'canvas' });
chart.setOption(option);
</script>
</body>
</html>
